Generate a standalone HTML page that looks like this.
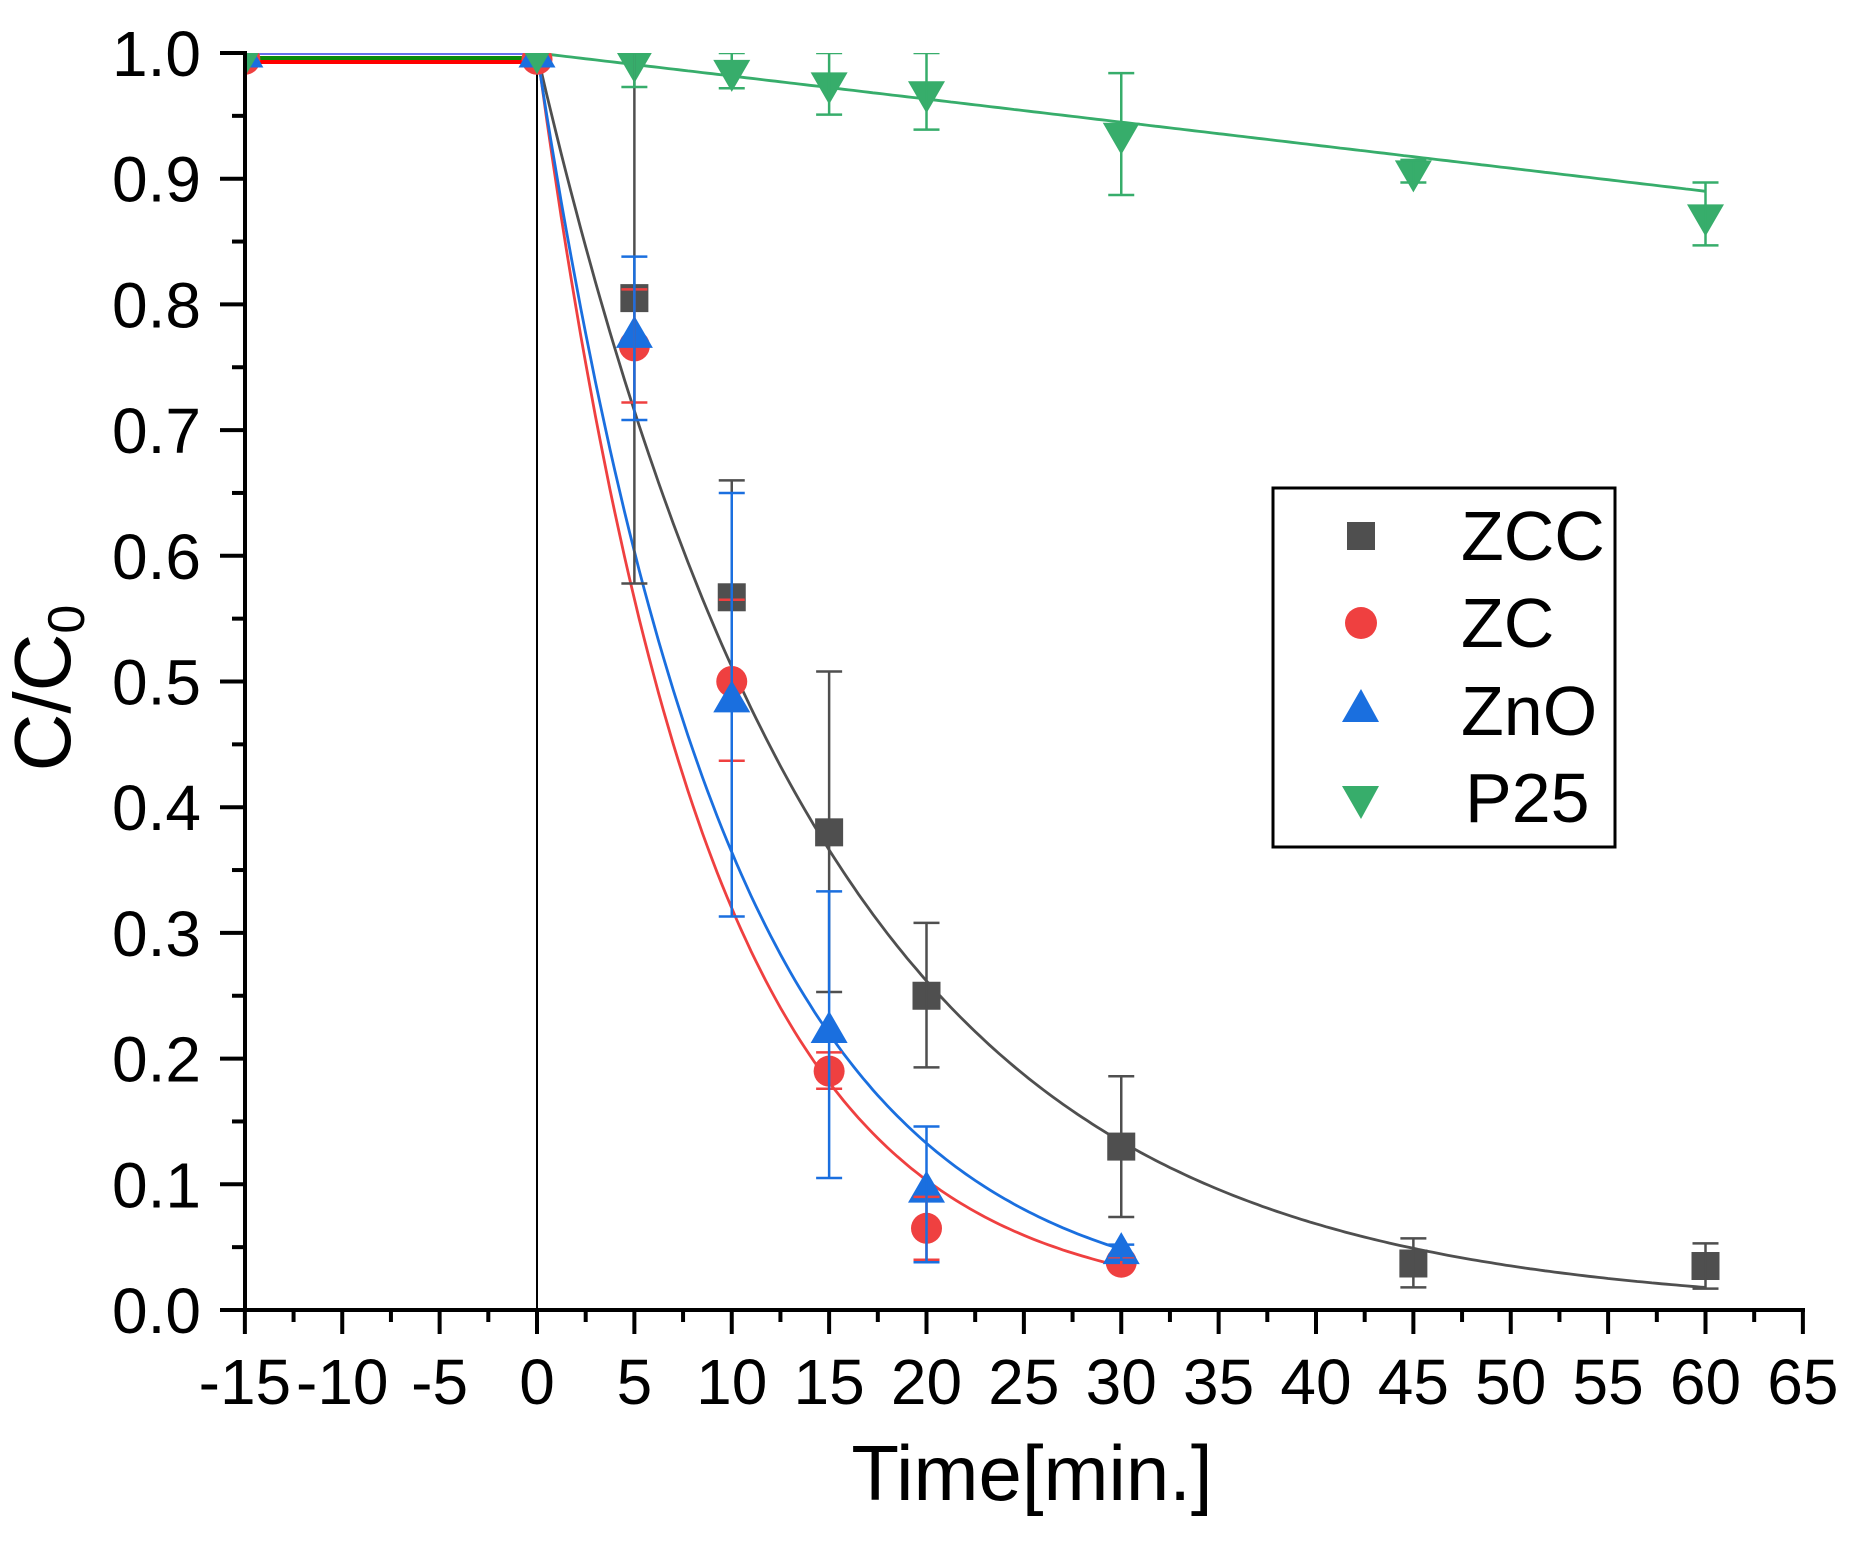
<!DOCTYPE html>
<html><head><meta charset="utf-8"><style>
html,body{margin:0;padding:0;background:#fff;width:1862px;height:1556px;overflow:hidden}
svg text{font-family:"Liberation Sans",Arial,sans-serif;fill:#000}
</style></head><body>
<svg id="s" width="1862" height="1556" xmlns="http://www.w3.org/2000/svg"></svg>
<script>
const S=document.getElementById('s');
const X=t=>537+19.475*t, Y=v=>1310-1257*v;
let h='<defs><clipPath id="cp"><rect x="245" y="53" width="1560" height="1257"/></clipPath></defs><g clip-path="url(#cp)">';
// pre-zero lines
h+=`<line x1="${X(-15)}" y1="49" x2="${X(0)}" y2="49" stroke="#000" stroke-width="4"/>`;
h+=`<line x1="${X(-15)}" y1="53" x2="${X(0)}" y2="53" stroke="#6670ee" stroke-width="4"/>`;
h+=`<line x1="${X(-15)}" y1="58" x2="${X(0)}" y2="58" stroke="#0a8a0a" stroke-width="4"/>`;
h+=`<line x1="${X(-15)}" y1="62" x2="${X(0)}" y2="62" stroke="#f00" stroke-width="4"/>`;
h+=`<line x1="${X(0)}" y1="49" x2="${X(0)}" y2="1310" stroke="#000" stroke-width="2"/>`;
const G='#4f4f4f',R='#ef4040',B='#1a6fdf',GR='#37ad6b';
function curve(f,t0,t1,c){let p=[];for(let t=t0;t<=t1+1e-9;t+=0.25)p.push(X(t).toFixed(1)+','+Y(f(t)).toFixed(1));return `<polyline points="${p.join(' ')}" fill="none" stroke="${c}" stroke-width="2.8"/>`;}
h+=curve(t=>Math.exp(-0.067*t),0,60,G);
h+=curve(t=>Math.exp(-0.115*t)+0.003,0,30,R);
h+=curve(t=>Math.exp(-0.101*t),0,30,B);
h+=curve(t=>1-0.11*t/60,0,60,GR);
function sq(t,v,c){return `<rect x="${X(t)-14}" y="${Y(v)-14}" width="28" height="28" fill="${c}"/>`;}
function ci(t,v,c){return `<circle cx="${X(t)}" cy="${Y(v)}" r="15.5" fill="${c}"/>`;}
function tu(t,v,c){const x=X(t),y=Y(v);return `<polygon points="${x-18.5},${y+12} ${x+18.5},${y+12} ${x},${y-20}" fill="${c}"/>`;}
function td(t,v,c){const x=X(t),y=Y(v);return `<polygon points="${x-18.5},${y-12} ${x+18.5},${y-12} ${x},${y+20}" fill="${c}"/>`;}
function eb(t,lo,hi,c){const x=X(t);return `<line x1="${x}" y1="${Y(lo)}" x2="${x}" y2="${Y(hi)}" stroke="${c}" stroke-width="2.5"/><line x1="${x-13}" y1="${Y(lo)}" x2="${x+13}" y2="${Y(lo)}" stroke="${c}" stroke-width="2.5"/><line x1="${x-13}" y1="${Y(hi)}" x2="${x+13}" y2="${Y(hi)}" stroke="${c}" stroke-width="2.5"/>`;}
const zcc=[[-15,1,0,0],[0,1,0,0],[5,.805,.578,1.005],[10,.567,.565,.66],[15,.38,.253,.508],[20,.25,.193,.308],[30,.13,.074,.186],[45,.037,.018,.057],[60,.035,.017,.053]];
const zc=[[-15,.995,0,0],[0,.995,0,0],[5,.767,.722,.812],[10,.5,.437,.565],[15,.19,.176,.205],[20,.065,.04,.09],[30,.038,.035,.041]];
const zno=[[-15,.998,0,0],[0,.998,0,0],[5,.775,.708,.838],[10,.485,.313,.65],[15,.222,.105,.333],[20,.095,.038,.146],[30,.046,.04,.052]];
const p25=[[-15,.997,0,0],[0,.999,0,0],[5,.992,.973,1.0],[10,.985,.972,1.0],[15,.975,.951,1.0],[20,.968,.939,1.0],[30,.935,.887,.984],[45,.905,.897,.915],[60,.87,.847,.897]];
zcc.forEach(d=>h+=sq(d[0],d[1],G));
zc.forEach(d=>h+=ci(d[0],d[1],R));
zno.forEach(d=>h+=tu(d[0],d[1],B));
p25.forEach(d=>h+=td(d[0],d[1],GR));
[[zcc,G],[zc,R],[zno,B],[p25,GR]].forEach(([a,c])=>a.forEach(d=>{if(d[0]>0)h+=eb(d[0],d[2],d[3],c);}));
h+='</g>';
// axes
h+=`<line x1="245" y1="51" x2="245" y2="1312" stroke="#000" stroke-width="4"/>`;
h+=`<line x1="243" y1="1310" x2="1805" y2="1310" stroke="#000" stroke-width="4"/>`;
for(let i=0;i<=20;i++){const v=i*0.05,y=Y(v),maj=i%2==0;h+=`<line x1="${maj?220:232}" y1="${y}" x2="245" y2="${y}" stroke="#000" stroke-width="4"/>`;
 if(maj)h+=`<text x="201" y="${y+23}" font-size="64" text-anchor="end">${(v).toFixed(1)}</text>`;}
for(let i=0;i<=32;i++){const t=-15+i*2.5,x=X(t),maj=i%2==0;h+=`<line x1="${x}" y1="1310" x2="${x}" y2="${maj?1334:1322}" stroke="#000" stroke-width="4"/>`;
 if(maj)h+=`<text x="${x}" y="1404" font-size="64" text-anchor="middle">${t}</text>`;}
h+=`<text x="1032" y="1500" font-size="78" text-anchor="middle">Time[min.]</text>`;
h+=`<text transform="translate(70,688) rotate(-90)" font-size="80" text-anchor="middle">C/C<tspan font-size="52" dy="14">0</tspan></text>`;
// legend
h+=`<rect x="1273" y="488" width="342" height="359" fill="#fff" stroke="#000" stroke-width="3"/>`;
h+=`<rect x="1347" y="522" width="28" height="28" fill="${G}"/>`;
h+=`<circle cx="1361" cy="623" r="16" fill="${R}"/>`;
h+=`<polygon points="1342,722 1379,722 1361,689" fill="${B}"/>`;
h+=`<polygon points="1342,786 1379,786 1361,819" fill="${GR}"/>`;
[['ZCC',560],['ZC',647],['ZnO',735],['P25',822]].forEach(([s,y])=>h+=`<text x="${s=='P25'?1465:1461}" y="${y}" font-size="70">${s}</text>`);
S.innerHTML=h;
</script>
</body></html>
